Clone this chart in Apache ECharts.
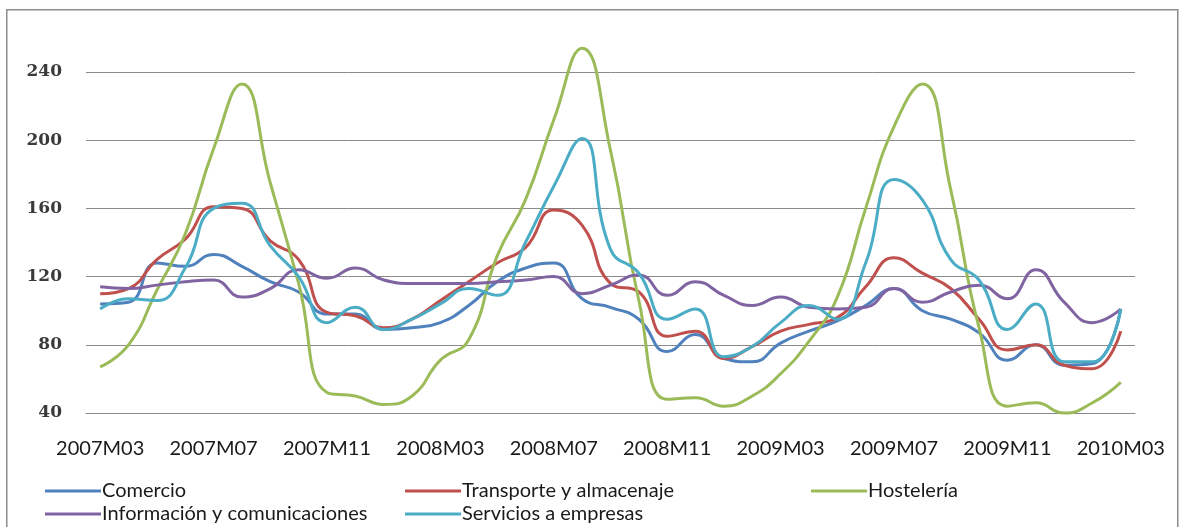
<!DOCTYPE html>
<html>
<head>
<meta charset="utf-8">
<script src="https://cdn.jsdelivr.net/npm/echarts@6/dist/echarts.min.js"></script>
<style>
html,body{margin:0;padding:0;background:#fff;}
#chart{width:1184px;height:527px;}
</style>
</head>
<body>
<div id="chart"></div>
<script>
const categories = ["2007M03","2007M04","2007M05","2007M06","2007M07","2007M08","2007M09","2007M10","2007M11","2007M12",
"2008M01","2008M02","2008M03","2008M04","2008M05","2008M06","2008M07","2008M08","2008M09","2008M10","2008M11","2008M12",
"2009M01","2009M02","2009M03","2009M04","2009M05","2009M06","2009M07","2009M08","2009M09","2009M10","2009M11","2009M12",
"2010M01","2010M02","2010M03"];

const comercio = [104,105,128,126,133,126,117,111,98,98,89,90,93,103,117,125,128,107,102,95,76,86,72,70,81,88,94,103,113,100,95,87,71,80,68,69,101];
const transporte = [110,113,130,142,161,160,141,130,99,97,90,95,106,117,128,137,159,150,116,111,85,88,72,79,88,92,96,114,131,122,113,95,77,80,68,66,88];
const hosteleria = [67,80,112,145,195,233,175,116,52,50,45,50,71,83,132,165,212,254,194,106,48,49,44,50,63,82,108,160,208,233,171,90,44,46,40,46,58];
const informacion = [114,113,115,117,118,108,113,124,119,125,118,116,116,116,117,118,120,110,115,121,109,117,109,103,108,102,101,102,113,105,111,115,107,124,105,93,101];
const servicios = [101,107,106,125,160,163,138,120,93,102,89,95,104,113,109,140,173,201,136,122,95,101,73,79,93,103,95,128,177,165,130,118,89,104,70,70,101];

const yTicks = {min: 40, max: 240, interval: 40};

const names = ["Comercio","Transporte y almacenaje","Hostelería","Información y comunicaciones","Servicios a empresas"];
const colors = ["#4F81BD","#C0504D","#9BBB59","#8064A2","#4BACC6"];
const values = [comercio, transporte, hosteleria, informacion, servicios];

const legendPos = [[40,476],[400,476],[806,476],[40,499],[400,499]];

const chart = echarts.init(document.getElementById('chart'), null, {renderer:'canvas'});
const option = {
  backgroundColor: '#fff',
  animation: false,
  graphic: [{
    type: 'rect', left: 6, top: 9, z: -1,
    shape: {x: 0, y: 0, width: 1171, height: 540},
    style: {fill: '#fff', stroke: '#8c8c8c', lineWidth: 1.5},
    silent: true
  }],
  grid: {left: 86, right: 49, top: 72, bottom: 114},
  xAxis: {
    type: 'category',
    data: categories,
    boundaryGap: true,
    axisTick: {show: false},
    axisLine: {show: true, lineStyle: {color: '#8a8a8a', width: 1}},
    axisLabel: {interval: 3, margin: 26, fontFamily: 'Lato', fontSize: 20, color: '#1a1a1a'}
  },
  yAxis: {
    type: 'value',
    min: yTicks.min, max: yTicks.max, interval: yTicks.interval,
    axisLine: {show: false},
    axisTick: {show: false},
    splitLine: {show: true, lineStyle: {color: '#8a8a8a', width: 1}},
    axisLabel: {margin: 24, fontFamily: 'DejaVu Serif', fontSize: 17, fontWeight: 'bold', color: '#3a3a3a'}
  },
  legend: names.map((n, i) => ({
    data: [n],
    left: legendPos[i][0], top: legendPos[i][1],
    icon: 'rect', itemWidth: 56, itemHeight: 3,
    textStyle: {fontFamily: 'Lato', fontSize: 20, color: '#1a1a1a', padding: [0,0,0,-4]},
    selectedMode: false
  })),
  series: names.map((n, i) => ({
    name: n,
    type: 'line',
    data: values[i],
    smooth: 0.5,
    clip: false,
    showSymbol: false,
    symbol: 'none',
    lineStyle: {color: colors[i], width: 3},
    itemStyle: {color: colors[i]}
  }))
};
chart.setOption(option);
</script>
</body>
</html>
